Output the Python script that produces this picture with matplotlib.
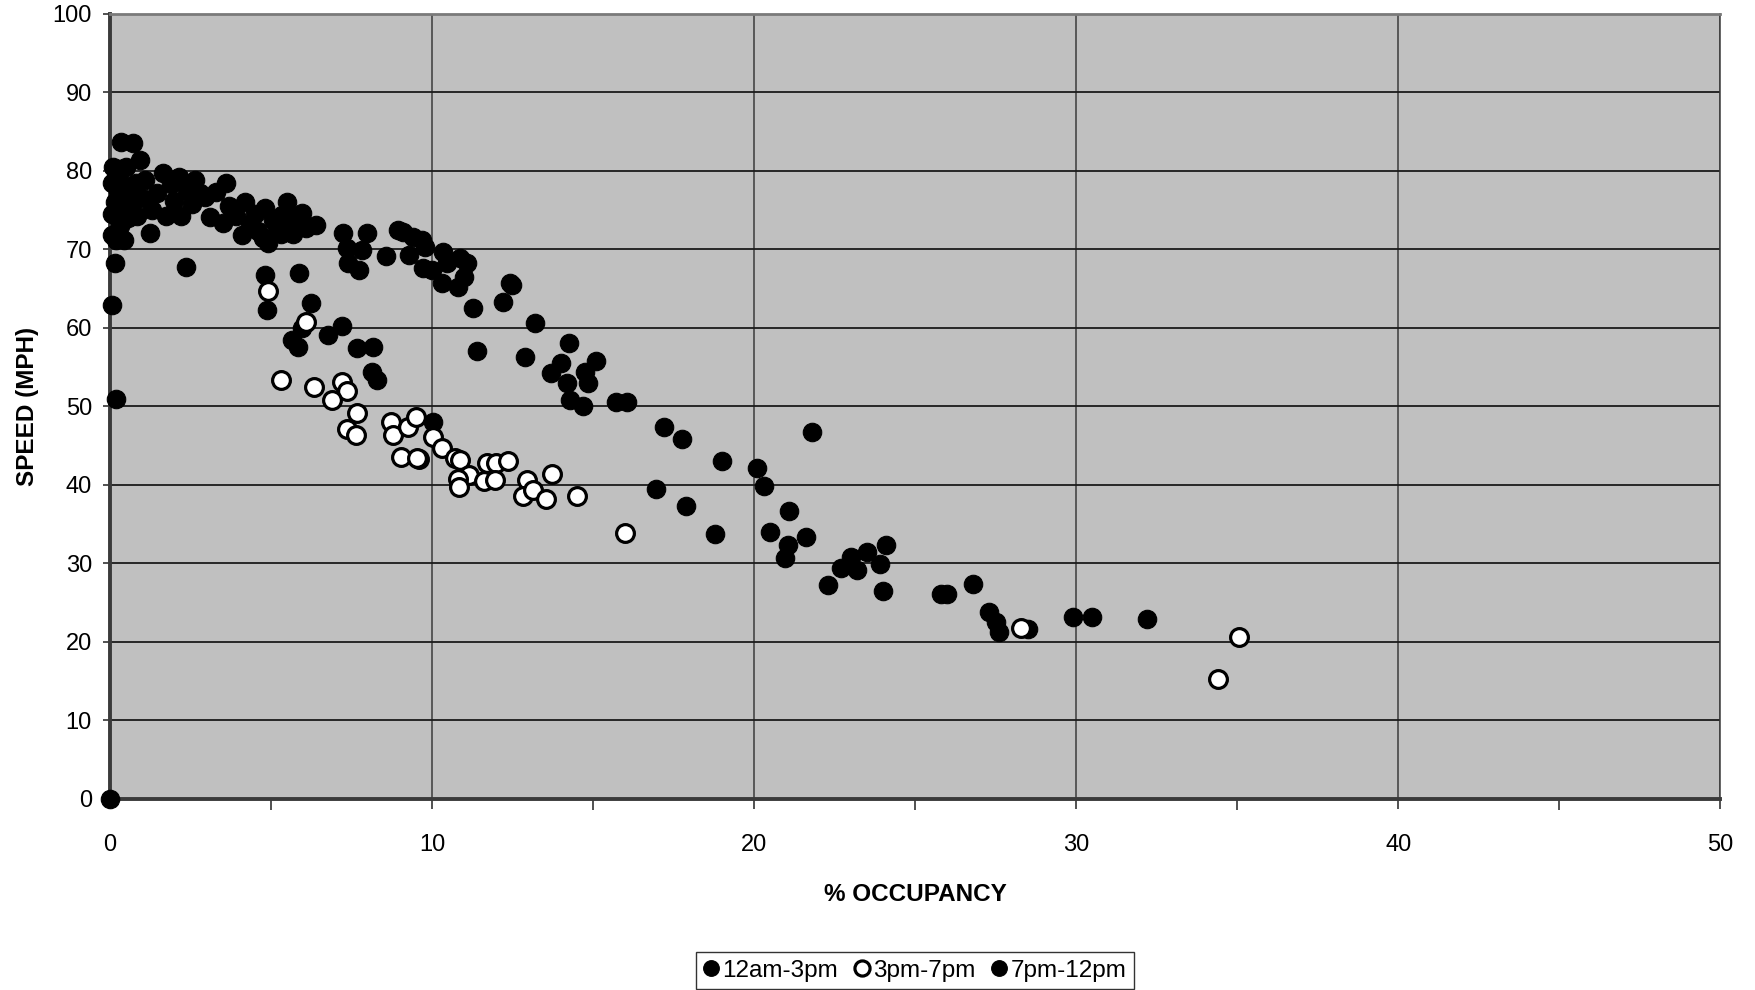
import matplotlib.pyplot as plt
from matplotlib.ticker import MultipleLocator

plt.rcParams['font.family'] = ['Liberation Sans', 'DejaVu Sans']

# % occupancy / speed (mph) pairs for each time window
occ_12am_3pm = [0.33, 0.71, 0.93, 0.2, 0.1, 0.3, 0.5, 0.05, 0.25, 0.45, 0.6, 0.15, 0.4, 0.7,
                0.55, 0.85, 0.05, 0.3, 0.2, 0.43, 0.16, 0.05, 0.8, 1.0, 1.1, 1.24, 1.3, 1.45,
                1.65, 1.75, 1.9, 2.0, 2.15, 2.2, 2.36, 2.4, 2.55, 2.65, 2.8, 2.95, 3.1, 3.3,
                3.5, 3.6, 3.7, 3.9, 4.1, 4.2, 4.35, 4.5, 4.6, 4.8, 4.9, 5.05, 5.2, 5.35, 5.5,
                5.6, 5.7, 5.8, 5.96, 6.1, 6.4, 4.75, 5.3,
                7.24, 7.97, 7.35, 7.82, 7.4, 7.74, 8.57, 8.94, 9.1, 9.4, 9.3, 9.78, 9.72, 9.7,
                10.0, 10.34, 10.46, 10.3, 10.87, 11.1, 11.0, 10.8, 11.27, 12.2, 12.42, 12.5, 13.2,
                11.4, 12.9, 14.26, 13.7, 14.0, 14.2, 14.3, 14.7, 14.75, 14.85, 15.1, 15.7, 16.06,
                17.2, 17.75, 19.0, 16.95, 17.9, 18.8, 21.8, 20.1, 20.3, 21.1, 20.5, 21.05, 20.96,
                21.6, 22.3, 22.7, 23.0, 23.2, 23.5, 23.9, 24.0, 24.1, 25.8, 26.0, 26.8, 27.3,
                27.5, 27.6, 28.5, 29.9, 30.5, 32.2]
spd_12am_3pm = [83.7, 83.5, 81.4, 79.2, 80.5, 80.2, 80.5, 78.5, 77.5, 78.2, 77.0, 76.0, 75.5, 75.8,
                74.0, 74.3, 74.5, 73.0, 71.2, 71.2, 68.3, 71.8, 78.5, 76.5, 78.8, 72.1, 75.0, 77.2,
                79.7, 74.2, 78.3, 76.2, 79.2, 74.3, 67.8, 77.5, 75.8, 78.8, 77.2, 76.7, 74.1, 77.3,
                73.3, 78.5, 75.5, 74.3, 71.8, 76.0, 73.2, 74.5, 72.3, 75.3, 70.8, 73.7, 72.6, 74.4, 76.0,
                73.0, 71.9, 74.2, 74.6, 72.7, 73.1, 71.5, 72.0,
                72.1, 72.1, 70.2, 69.9, 68.3, 67.4, 69.2, 72.5, 72.2, 71.6, 69.3, 70.3, 67.6, 71.2,
                67.4, 69.7, 68.3, 65.7, 68.9, 68.3, 66.5, 65.2, 62.5, 63.3, 65.7, 65.5, 60.6,
                57.0, 56.3, 58.1, 54.3, 55.5, 53.0, 50.8, 50.0, 54.4, 53.0, 55.8, 50.5, 50.5,
                47.4, 45.9, 43.0, 39.5, 37.3, 33.8, 46.7, 42.2, 39.9, 36.7, 34.0, 32.4, 30.7,
                33.4, 27.3, 29.4, 30.8, 29.2, 31.5, 29.9, 26.5, 32.4, 26.1, 26.1, 27.4, 23.8,
                22.5, 21.3, 21.7, 23.2, 23.2, 22.9]

occ_3pm_7pm = [4.9, 6.1, 5.3, 6.34, 7.2, 7.36, 6.9, 7.67, 7.36, 7.64, 8.73, 8.79, 9.25, 9.5,
               9.04, 9.6, 9.53, 10.03, 10.3, 10.7, 10.87, 11.15, 10.8, 10.84, 11.6, 11.7, 12.0,
               11.96, 12.36, 12.96, 12.84, 13.14, 13.54, 13.72, 14.5, 16.0, 28.3, 34.4, 35.06]
spd_3pm_7pm = [64.7, 60.8, 53.4, 52.5, 53.1, 52.0, 50.8, 49.1, 47.1, 46.4, 48.0, 46.4, 47.4, 48.7,
               43.5, 43.3, 43.4, 46.1, 44.7, 43.4, 43.2, 41.3, 40.8, 39.7, 40.5, 42.8, 42.8,
               40.6, 43.1, 40.6, 38.6, 39.4, 38.2, 41.4, 38.6, 33.9, 21.8, 15.3, 20.6]

occ_7pm_12pm = [0.0, 0.06, 0.19, 4.81, 4.87, 5.87, 6.24, 5.96, 5.65, 5.84, 6.77, 7.2, 7.67,
                8.17, 8.14, 8.3, 10.03]
spd_7pm_12pm = [0.0, 62.9, 50.9, 66.8, 62.3, 67.0, 63.2, 60.0, 58.5, 57.6, 59.1, 60.3, 57.5,
                57.6, 54.4, 53.4, 48.0]

fig = plt.figure(figsize=(17.56, 9.9), dpi=100)
ax = fig.add_axes([0.0626, 0.193, 0.917, 0.793])
ax.set_facecolor('#C0C0C0')

ms = 13.3
ax.plot(occ_12am_3pm, spd_12am_3pm, 'o', ms=ms, mfc='black', mec='black', mew=0.8,
        label='12am-3pm', zorder=3, clip_on=False)
ax.plot(occ_3pm_7pm, spd_3pm_7pm, 'o', ms=ms - 0.5, mfc='white', mec='black', mew=2.3,
        label='3pm-7pm', zorder=5, clip_on=False)
ax.plot(occ_7pm_12pm, spd_7pm_12pm, 'o', ms=ms, mfc='black', mec='black', mew=0.8,
        label='7pm-12pm', zorder=4, clip_on=False)

ax.set_xlim(0, 50)
ax.set_ylim(0, 100)
ax.xaxis.set_major_locator(MultipleLocator(10))
ax.xaxis.set_minor_locator(MultipleLocator(5))
ax.yaxis.set_major_locator(MultipleLocator(10))

ax.grid(axis='y', color='#1a1a1a', linewidth=1.3, zorder=1)
ax.grid(axis='x', color='#3c3c3c', linewidth=1.1, zorder=1)
ax.set_axisbelow(True)

ax.spines['left'].set_color('#3a3a3a')
ax.spines['left'].set_linewidth(2.8)
ax.spines['bottom'].set_color('#3a3a3a')
ax.spines['bottom'].set_linewidth(2.8)
ax.spines['top'].set_color('#7a7a7a')
ax.spines['top'].set_linewidth(2.0)
ax.spines['right'].set_color('#3c3c3c')
ax.spines['right'].set_linewidth(1.1)

ax.tick_params(axis='y', which='major', length=5, width=1.2, color='#333333',
               pad=8, labelsize=17)
ax.tick_params(axis='x', which='major', length=7, width=1.2, color='#333333',
               pad=18, labelsize=17)
ax.tick_params(axis='x', which='minor', length=8, width=1.2, color='#333333')

ax.set_xlabel('% OCCUPANCY', fontsize=17.5, fontweight='bold', labelpad=20)
ax.set_ylabel('SPEED (MPH)', fontsize=17.5, fontweight='bold', labelpad=10)

leg = fig.legend(loc='lower center', bbox_to_anchor=(0.521, 0.001), ncol=3,
                 fontsize=17.5, frameon=True, fancybox=False, markerscale=0.85,
                 handlelength=0.6, handletextpad=0.15, columnspacing=0.7,
                 borderpad=0.3, borderaxespad=0)
leg.get_frame().set_edgecolor('black')
leg.get_frame().set_linewidth(1.0)

fig.savefig('out.png', dpi=100)
